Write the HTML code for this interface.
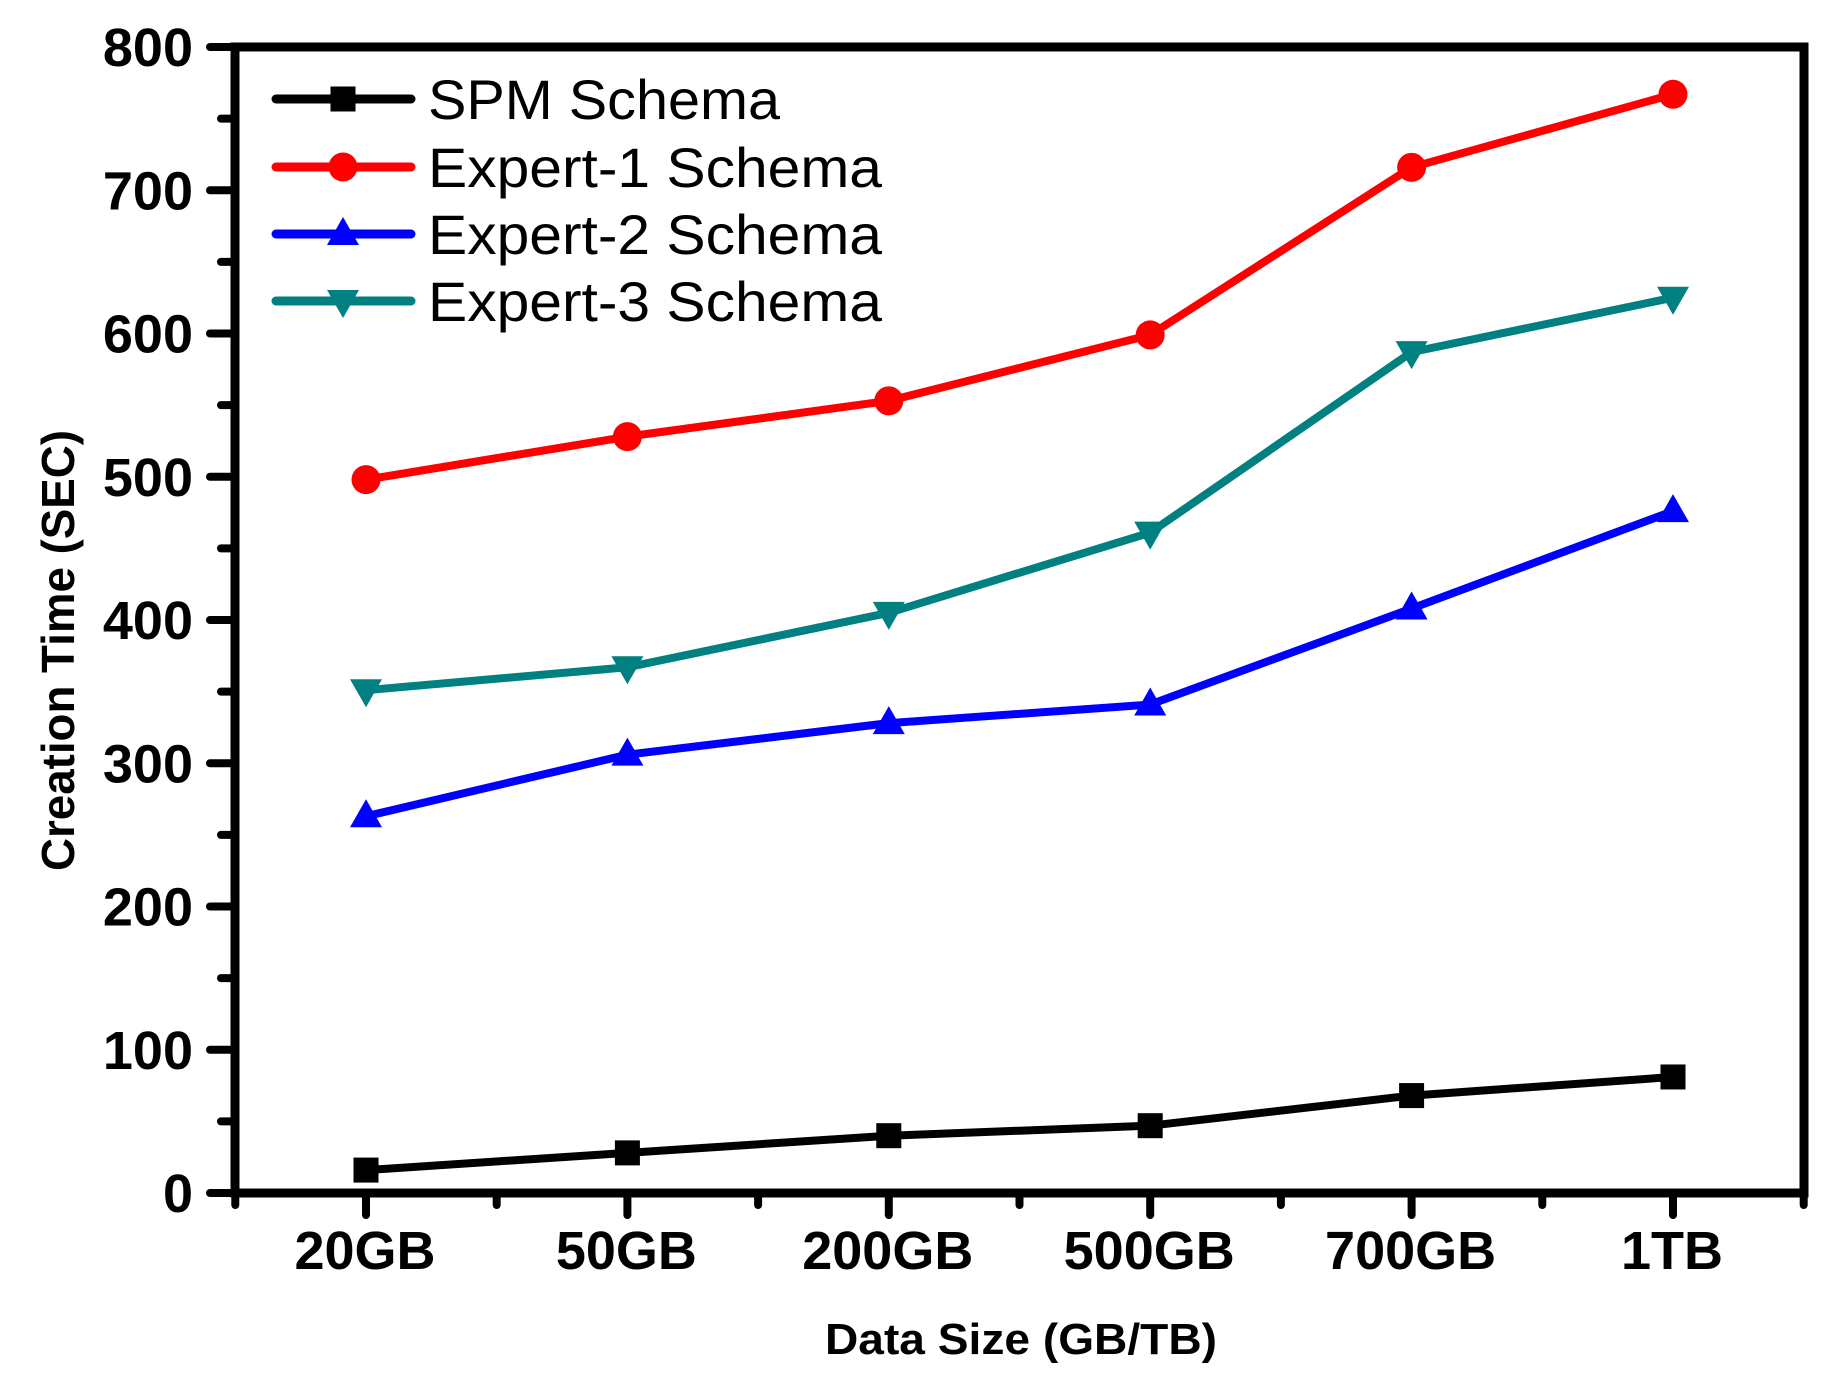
<!DOCTYPE html>
<html><head><meta charset="utf-8"><style>
html,body{margin:0;padding:0;background:#fff;}
svg{display:block;}
text{font-family:"Liberation Sans",Arial,sans-serif;}
</style></head>
<body>
<svg id="chart" width="1840" height="1382" viewBox="0 0 1840 1382" xmlns="http://www.w3.org/2000/svg">
<rect x="0" y="0" width="1840" height="1382" fill="#fff"/>
<g id="grid"></g>
<rect x="235" y="47" width="1569" height="1146" fill="none" stroke="#000" stroke-width="9"/>
<g id="axes"></g>
<g id="series"></g>
<text x="825" y="1354" font-size="44" font-weight="bold" textLength="392" lengthAdjust="spacingAndGlyphs">Data Size (GB/TB)</text>
<text transform="translate(74,871) rotate(-90)" x="0" y="0" font-size="46" font-weight="bold" textLength="441" lengthAdjust="spacingAndGlyphs">Creation Time (SEC)</text>
<g id="legend"></g>
</svg>
<script>
const categories = ["20GB","50GB","200GB","500GB","700GB","1TB"];
const spmValues = [16, 28, 40, 47, 68, 81];
const expert1Values = [498, 528, 553, 599, 716, 767];
const expert2Values = [263, 306, 328, 341, 408, 476];
const expert3Values = [351, 367, 405, 461, 587, 625];
const yTicks = [0,100,200,300,400,500,600,700,800];
const seriesNames = ["SPM Schema","Expert-1 Schema","Expert-2 Schema","Expert-3 Schema"];

const NS = "http://www.w3.org/2000/svg";
const X0 = 366, XSTEP = (1673-366)/5, Y0 = 1193, YTOP = 47, YMAX = 800;
function xPos(i){ return X0 + i*XSTEP; }
function yPos(v){ return Y0 - v*(Y0-YTOP)/YMAX; }
function mk(tag, attrs, parent){
  const e = document.createElementNS(NS, tag);
  for (const k in attrs) e.setAttribute(k, attrs[k]);
  parent.appendChild(e); return e;
}
const axes = document.getElementById('axes');
yTicks.forEach(v => {
  const t = mk('line', {x1:210, x2:235, y1:yPos(v), y2:yPos(v), stroke:'#000','stroke-width':8,'stroke-linecap':'round'}, axes);
  
  
  const lab = mk('text', {x:193, y:yPos(v)+19, 'text-anchor':'end','font-size':54,'font-weight':'bold'}, axes);
  lab.textContent = v;
  
  
  if (v < YMAX) {
    const m = mk('line', {x1:221, x2:235, y1:yPos(v+50), y2:yPos(v+50), stroke:'#000','stroke-width':8,'stroke-linecap':'round'}, axes);
    
    
  }
});
categories.forEach((c,i) => {
  const t = mk('line', {x1:xPos(i), x2:xPos(i), y1:1193, y2:1215, stroke:'#000','stroke-width':8,'stroke-linecap':'round'}, axes);
  
  
  const lab = mk('text', {x:xPos(i)-1, y:1269, 'text-anchor':'middle','font-size':54,'font-weight':'bold'}, axes);
  lab.textContent = c;
  
  
});
for (let k=-0.5;k<=5.6;k+=1){
  const m = mk('line', {x1:xPos(k), x2:xPos(k), y1:1193, y2:1205, stroke:'#000','stroke-width':8,'stroke-linecap':'round'}, axes);
  
  
}

function marker(type, cx, cy, color, parent){
  let e;
  if (type==='square') e = mk('rect', {x:cx-12.5, y:cy-12.5, width:25, height:25, fill:color}, parent);
  else if (type==='circle') e = mk('circle', {cx:cx, cy:cy, r:14.5, fill:color}, parent);
  else if (type==='up') e = mk('polygon', {points:`${cx},${cy-17} ${cx-16},${cy+11} ${cx+16},${cy+11}`, fill:color}, parent);
  else e = mk('polygon', {points:`${cx},${cy+17} ${cx-16},${cy-11} ${cx+16},${cy-11}`, fill:color}, parent);
  return e;
}
const allSeries = [
  {vals:spmValues, color:'#000000', m:'square', key:'spm'},
  {vals:expert1Values, color:'#ff0000', m:'circle', key:'expert-1'},
  {vals:expert2Values, color:'#0000ff', m:'up', key:'expert-2'},
  {vals:expert3Values, color:'#008080', m:'down', key:'expert-3'}
];
const sg = document.getElementById('series');
allSeries.forEach(s => {
  const pts = s.vals.map((v,i)=>xPos(i)+','+yPos(v)).join(' ');
  const pl = mk('polyline', {points:pts, fill:'none', stroke:s.color, 'stroke-width':8,'stroke-linejoin':'round','stroke-linecap':'round'}, sg);
  
  
  s.vals.forEach((v,i) => {
    const mkr = marker(s.m, xPos(i), yPos(v), s.color, sg);
    
    
  });
});
const lg = document.getElementById('legend');
const rowY = [99,167,234,301];
const txtLen = [352,454,454,454];
allSeries.forEach((s,k) => {
  const ln = mk('line', {x1:276, x2:411, y1:rowY[k], y2:rowY[k], stroke:s.color,'stroke-width':9,'stroke-linecap':'round'}, lg);
  
  
  const mm = marker(s.m, 343, rowY[k], s.color, lg);
  
  
  const t = mk('text', {x:428, y:rowY[k]+20, 'font-size':56, textLength:txtLen[k], lengthAdjust:'spacingAndGlyphs'}, lg);
  t.textContent = seriesNames[k];
  
  
});
</script>
</body></html>
